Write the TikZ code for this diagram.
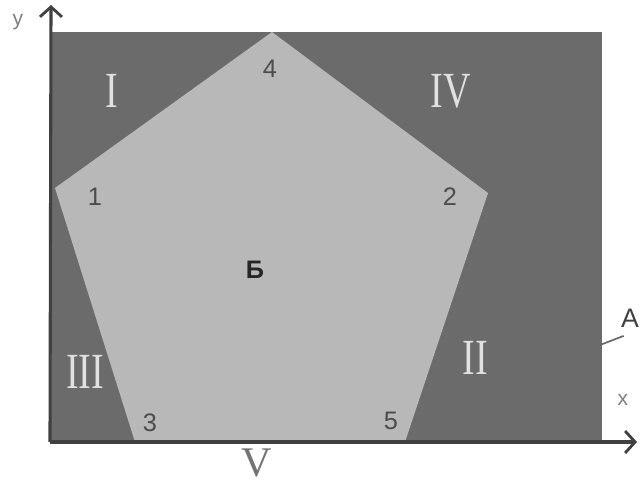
\documentclass[tikz,border=0pt]{standalone}
\usepackage{fontspec}
\setmainfont{Liberation Serif}
\setsansfont{Liberation Sans}
\usetikzlibrary{arrows.meta}
\tikzset{
  zone/.style={text=white!88!black, font=\fontsize{36}{36}\selectfont},
  vnum/.style={text=black!70, font=\sffamily\fontsize{18}{18}\selectfont},
  axlbl/.style={text=black!50, font=\sffamily\fontsize{15}{15}\selectfont},
  axis/.style={line width=2.2pt, draw=black!75, -{Straight Barb[length=2.5mm,width=5.5mm,line width=2pt]}}
}
\newcommand{\narrownum}[1]{\scalebox{0.75}[1]{#1}}

\begin{document}
\begin{tikzpicture}[x=0.025cm,y=-0.025cm]
\useasboundingbox (0,0) rectangle (640,485);

% Field
\fill[black!58] (50,32) rectangle (602,442);

% Pentagon
\coordinate (p1) at (55,188);
\coordinate (p2) at (488,193);
\coordinate (p3) at (135,442);
\coordinate (p4) at (272,32);
\coordinate (p5) at (405,442);
\fill[black!28] (p4) -- (p2) -- (p5) -- (p3) -- (p1) -- cycle;

% Zones
\node[zone] (zI) at (112,91) {\narrownum{I}};
\node[zone] (zIV) at (451,91) {\narrownum{IV}};
\node[zone] (zIII) at (85,372) {\narrownum{III}};
\node[zone] (zII) at (475,358) {\narrownum{II}};
\node[text=black!55, inner sep=0pt, font=\fontsize{30}{30}\selectfont] (zV) at (257,463) {V};

% Vertices
\node[vnum] (n1) at (95,197) {1};
\node[vnum] (n2) at (450,197) {2};
\node[vnum] (n3) at (150,423) {3};
\node[vnum] (n4) at (270,69) {4};
\node[vnum] (n5) at (391,421) {5};
\node[text=black!85, font=\sffamily\bfseries\fontsize{18}{18}\selectfont] (B) at (255,270) {Б};

% Axes
\coordinate (O) at (50,442);
\coordinate (ytip) at (51,5);
\coordinate (xtip) at (637,442);
\draw[axis] (O) -- (ytip);
\draw[axis] (O) -- (xtip);
\node[axlbl] (ylbl) at (18,22) {y};
\node[axlbl] (xlbl) at (623,400) {x};

% A
\node[text=black!75, inner sep=0pt, font=\sffamily\fontsize{19}{19}\selectfont] (A) at (630,318) {A};
\coordinate (Aend) at (600,345);
\draw[black!60, line width=1.2pt] (Aend) -- ([xshift=2pt,yshift=-6pt]A.south west);

\end{tikzpicture}
\end{document}
